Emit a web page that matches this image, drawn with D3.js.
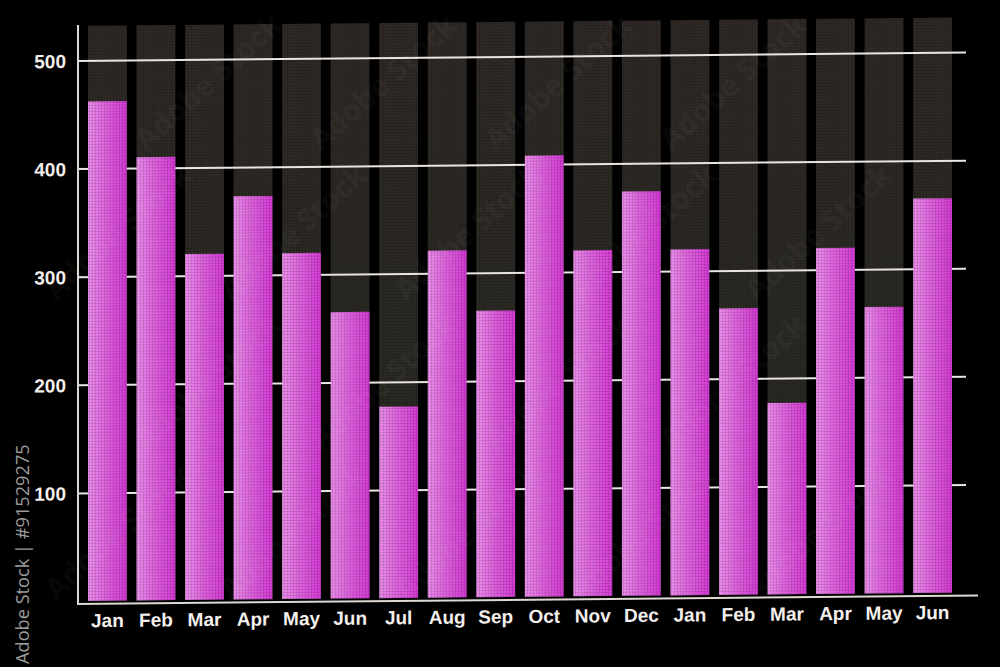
<!DOCTYPE html>
<html>
<head>
<meta charset="utf-8">
<script src="https://cdn.jsdelivr.net/npm/d3@7"></script>
<style>
  html, body { margin: 0; padding: 0; background: #000; }
  svg { display: block; }
</style>
</head>
<body>
<div id="chart"></div>
<script>
// ---- data ----
const categories = ["Jan","Feb","Mar","Apr","May","Jun","Jul","Aug","Sep","Oct","Nov","Dec","Jan","Feb","Mar","Apr","May","Jun"];
const values     = [462, 410, 320, 373, 320, 265, 177, 321, 265, 408, 320, 374, 320, 265, 177, 320, 265, 365];
const maxValues  = [532, 532, 532, 532, 532, 532, 532, 532, 532, 532, 532, 532, 532, 532, 532, 532, 532, 532];
const yTicks     = [100, 200, 300, 400, 500];
const watermark  = "Adobe Stock | #91529275";
const stockMark  = "Adobe Stock";

const W = 1000, H = 667;
const svg = d3.select("#chart").append("svg")
  .attr("width", W).attr("height", H)
  .style("background", "#000");

const defs = svg.append("defs");
const grad = defs.append("linearGradient").attr("id", "pink")
  .attr("x1", "0").attr("x2", "1").attr("y1", "0").attr("y2", "0");
grad.append("stop").attr("offset", "0%").attr("stop-color", "#f090f0");
grad.append("stop").attr("offset", "45%").attr("stop-color", "#e466e4");
grad.append("stop").attr("offset", "100%").attr("stop-color", "#d83ad8");

const bgGrad = defs.append("linearGradient").attr("id", "bgbar")
  .attr("x1", "0").attr("x2", "0").attr("y1", "0").attr("y2", "1");
bgGrad.append("stop").attr("offset", "0%").attr("stop-color", "#302a26");
bgGrad.append("stop").attr("offset", "100%").attr("stop-color", "#272a23");

// screen pixel texture
const pat = defs.append("pattern").attr("id", "pix")
  .attr("width", 3).attr("height", 3).attr("patternUnits", "userSpaceOnUse");
pat.append("rect").attr("x", 2).attr("y", 0).attr("width", 1).attr("height", 3).attr("fill", "rgba(0,0,0,0.13)");
pat.append("rect").attr("x", 0).attr("y", 2).attr("width", 3).attr("height", 1).attr("fill", "rgba(0,0,0,0.13)");

// slight perspective skew like the photographed screen
const g = svg.append("g")
  .attr("transform", `matrix(1,-0.0095,0,1,0,${0.0095 * 500})`);

const x = d3.scaleBand()
  .domain(d3.range(categories.length))
  .range([83.15, 956.85])
  .paddingInner(0.2)
  .paddingOuter(0.1);

const y = d3.scaleLinear().domain([0, 500]).range([597, 56.5]);

// background (max) bars
g.append("g").selectAll("rect.bg")
  .data(maxValues).join("rect")
  .attr("class", "bg")
  .attr("x", (d, i) => x(i))
  .attr("width", x.bandwidth())
  .attr("y", d => y(d))
  .attr("height", d => y(0) - y(d))
  .attr("fill", "url(#bgbar)");
g.append("g").selectAll("rect.bgp")
  .data(maxValues).join("rect")
  .attr("x", (d, i) => x(i))
  .attr("width", x.bandwidth())
  .attr("y", d => y(d))
  .attr("height", d => y(0) - y(d))
  .attr("fill", "url(#pix)");

// gridlines
const yAxisGrid = d3.axisLeft(y).tickValues(yTicks).tickSize(-(966 - 78)).tickFormat("");
g.append("g")
  .attr("transform", "translate(78,0)")
  .call(yAxisGrid)
  .call(s => s.select(".domain").remove())
  .call(s => s.selectAll(".tick line")
    .attr("stroke", "#ebe4df").attr("stroke-width", 2));

// value bars
g.append("g").selectAll("rect.v")
  .data(values).join("rect")
  .attr("class", "v")
  .attr("x", (d, i) => x(i))
  .attr("width", x.bandwidth())
  .attr("y", d => y(d))
  .attr("height", d => y(0) - y(d))
  .attr("fill", "url(#pink)");
g.append("g").selectAll("rect.vp")
  .data(values).join("rect")
  .attr("x", (d, i) => x(i))
  .attr("width", x.bandwidth())
  .attr("y", d => y(d))
  .attr("height", d => y(0) - y(d))
  .attr("fill", "url(#pix)");

// axis lines
g.append("line").attr("x1", 78).attr("x2", 78).attr("y1", 21).attr("y2", 600)
  .attr("stroke", "#e0d8d2").attr("stroke-width", 2);
g.append("line").attr("x1", 77).attr("x2", 978).attr("y1", 600).attr("y2", 600)
  .attr("stroke", "#e0d8d2").attr("stroke-width", 2);

// y tick labels
const yAxis = d3.axisLeft(y).tickValues(yTicks).tickSize(0).tickPadding(0).tickFormat(d3.format("d"));
g.append("g")
  .attr("transform", "translate(66,0)")
  .call(yAxis)
  .call(s => s.select(".domain").remove())
  .call(s => s.selectAll(".tick text")
    .attr("fill", "#f4efec")
    .attr("font-family", "'Liberation Sans', Arial, sans-serif")
    .attr("font-weight", "bold")
    .attr("font-size", 19)
    .attr("dy", "0.36em"));

// x tick labels
const xAxis = d3.axisBottom(x).tickSize(0).tickPadding(0).tickFormat(i => categories[i]);
g.append("g")
  .attr("transform", "translate(0,609)")
  .call(xAxis)
  .call(s => s.select(".domain").remove())
  .call(s => s.selectAll(".tick text")
    .attr("fill", "#f4efec")
    .attr("font-family", "'Liberation Sans', Arial, sans-serif")
    .attr("font-weight", "bold")
    .attr("font-size", 19)
    .attr("dy", "0.75em"));

// faint diagonal stock watermarks (kept inside the frame)
const wm = svg.append("g").attr("pointer-events", "none");
const spots = [];
for (let r = 0; r < 5; r++) {
  for (let c = 0; c < 7; c++) {
    const px = 40 + c * 175 + (r % 2) * 85, py = 90 + r * 150;
    if (px > 85 && px < 915 && py > 70 && py < 600) spots.push([px, py]);
  }
}
wm.selectAll("text").data(spots).join("text")
  .attr("transform", d => `translate(${d[0]},${d[1]}) rotate(-42)`)
  .attr("text-anchor", "middle")
  .attr("font-family", "'Open Sans', sans-serif")
  .attr("font-weight", "bold")
  .attr("font-size", 30)
  .attr("fill", "rgba(255,255,255,0.05)")
  .text(stockMark);

// vertical watermark
svg.append("text")
  .attr("transform", "translate(29,664) rotate(-90)")
  .attr("font-family", "'Open Sans', sans-serif")
  .attr("font-size", 18.2)
  .attr("fill", "#9b9b9b")
  .text(watermark);
</script>
</body>
</html>
